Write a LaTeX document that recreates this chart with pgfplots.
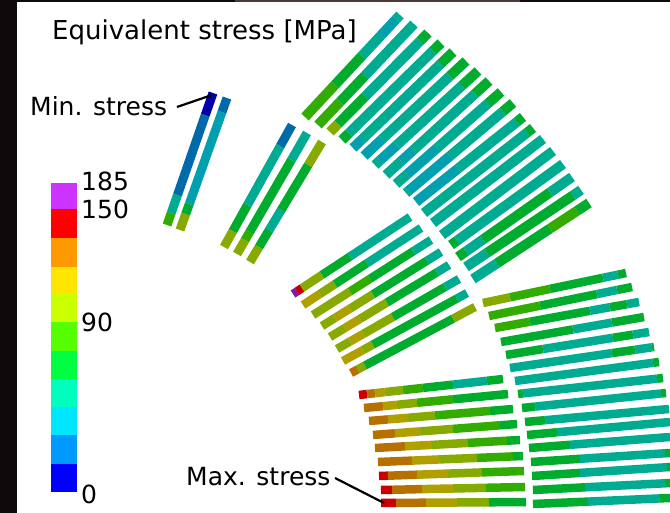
\documentclass[border=0pt]{standalone}
\usepackage{fontspec}
\setmainfont{DejaVu Sans}
\usepackage{pgfplots}
\pgfplotsset{compat=1.18}
% dimmed contour colours of the strands
\definecolor{tl}{RGB}{0,172,145}
\definecolor{bt}{RGB}{0,160,175}
\definecolor{gn}{RGB}{0,172,45}
\definecolor{yg}{RGB}{50,172,0}
\definecolor{ol}{RGB}{135,170,0}
\definecolor{gd}{RGB}{175,160,0}
\definecolor{og}{RGB}{182,112,0}
\definecolor{rd}{RGB}{200,0,0}
\definecolor{bl}{RGB}{0,105,170}
\definecolor{db}{RGB}{0,0,170}
\definecolor{pu}{RGB}{120,30,170}
\definecolor{bgdark}{RGB}{14,10,12}
\newcommand{\sA}[2]{\addplot[forget plot,draw=#1,line width=9pt] coordinates {#2};}
\newcommand{\sB}[2]{\addplot[forget plot,draw=#1,line width=8.5pt] coordinates {#2};}
\newcommand{\sD}[2]{\addplot[forget plot,draw=#1,line width=10pt] coordinates {#2};}
\tikzset{lb/.style={anchor=base west,inner sep=0pt,text=black,font=\fontsize{25}{29}\selectfont}}
\begin{document}
\begin{tikzpicture}
\begin{axis}[
    scale only axis, width=670pt, height=513pt,
    xmin=0, xmax=670, ymin=0, ymax=513,
    y dir=reverse, hide axis, clip=true,
]
% background
\addplot[forget plot,draw=none,fill=white] coordinates {(0,0)(670,0)(670,513)(0,513)} -- cycle;
\addplot[forget plot,draw=none,fill=bgdark] coordinates {(0,0)(17,0)(17,513)(0,513)} -- cycle;
\addplot[forget plot,draw=none,fill=bgdark] coordinates {(0,0)(670,0)(670,2)(0,2)} -- cycle;
\addplot[forget plot,draw=none,fill={rgb,255:red,74;green,58;blue,56}] coordinates {(235,0)(520,0)(520,2)(235,2)} -- cycle;

% colour bar
\addplot[forget plot,draw=none,fill={rgb,255:red,204;green,51;blue,255}] coordinates {(51,183)(77,183)(77,209)(51,209)} -- cycle;
\addplot[forget plot,draw=none,fill={rgb,255:red,255;green,0;blue,0}] coordinates {(51,209)(77,209)(77,238)(51,238)} -- cycle;
\addplot[forget plot,draw=none,fill={rgb,255:red,255;green,153;blue,0}] coordinates {(51,238)(77,238)(77,267)(51,267)} -- cycle;
\addplot[forget plot,draw=none,fill={rgb,255:red,255;green,230;blue,0}] coordinates {(51,267)(77,267)(77,294)(51,294)} -- cycle;
\addplot[forget plot,draw=none,fill={rgb,255:red,204;green,255;blue,0}] coordinates {(51,294)(77,294)(77,322)(51,322)} -- cycle;
\addplot[forget plot,draw=none,fill={rgb,255:red,85;green,255;blue,0}] coordinates {(51,322)(77,322)(77,351)(51,351)} -- cycle;
\addplot[forget plot,draw=none,fill={rgb,255:red,0;green,255;blue,64}] coordinates {(51,351)(77,351)(77,379)(51,379)} -- cycle;
\addplot[forget plot,draw=none,fill={rgb,255:red,0;green,255;blue,191}] coordinates {(51,379)(77,379)(77,407)(51,407)} -- cycle;
\addplot[forget plot,draw=none,fill={rgb,255:red,0;green,230;blue,255}] coordinates {(51,407)(77,407)(77,435)(51,435)} -- cycle;
\addplot[forget plot,draw=none,fill={rgb,255:red,0;green,153;blue,255}] coordinates {(51,435)(77,435)(77,464)(51,464)} -- cycle;
\addplot[forget plot,draw=none,fill={rgb,255:red,0;green,0;blue,255}] coordinates {(51,464)(77,464)(77,492)(51,492)} -- cycle;

% block 1, two strands
\sA{yg}{(167,225)(171.2,213)} \sA{tl}{(171.2,213)(177.5,195)} \sA{bl}{(177.5,195)(205.3,115)} \sA{db}{(205.3,115)(213,93)}
\sA{ol}{(180,230)(185.7,214)} \sA{gn}{(185.7,214)(189.3,204)} \sA{bt}{(189.3,204)(222,112)} \sA{bl}{(222,112)(227,98)}

% block 2, three strands
\sA{ol}{(224,247)(232.9,231)} \sA{gn}{(232.9,231)(247.4,205)} \sA{tl}{(247.4,205)(280.3,146)} \sA{bl}{(280.3,146)(292,125)}
\sA{ol}{(237,254)(245.1,240)} \sA{yg}{(245.1,240)(249.7,232)} \sA{gn}{(249.7,232)(291.4,160)} \sA{tl}{(291.4,160)(307,133)}
\sA{ol}{(250,262)(259,247)} \sA{gn}{(259,247)(269.2,230)} \sA{tl}{(269.2,230)(281.2,210)} \sA{gn}{(281.2,210)(308.2,165)} \sA{ol}{(308.2,165)(322,142)}

% block 3, eighteen strands
\sD{yg}{(305,117)(335,84.8)} \sD{gn}{(335,84.8)(362,55.8)} \sD{tl}{(362,55.8)(381,35.4)} \sD{bt}{(381,35.4)(396,19.3)} \sD{tl}{(396,19.3)(400,15)}
\sD{yg}{(318,125)(340,101.9)} \sD{gn}{(340,101.9)(365,75.6)} \sD{tl}{(365,75.6)(414,24)}
\sD{ol}{(330,132)(338,123.9)} \sD{gn}{(338,123.9)(365,96.6)} \sD{tl}{(365,96.6)(420,41.1)} \sD{gn}{(420,41.1)(428,33)}
\sD{gn}{(342,140)(349,133.1)} \sD{tl}{(349,133.1)(433,50.8)} \sD{gn}{(433,50.8)(441,43)}
\sD{bt}{(353,148)(362,139.4)} \sD{tl}{(362,139.4)(441,63.5)} \sD{gn}{(441,63.5)(453,52)}
\sD{bt}{(364,156)(382,139.2)} \sD{tl}{(382,139.2)(450,75.9)} \sD{gn}{(450,75.9)(466,61)}
\sD{tl}{(375,165)(380,160.4)} \sD{bt}{(380,160.4)(397,144.9)} \sD{tl}{(397,144.9)(462,85.6)} \sD{gn}{(462,85.6)(478,71)}
\sD{tl}{(386,175)(401,161.3)} \sD{bt}{(401,161.3)(413,150.4)} \sD{tl}{(413,150.4)(475,93.8)} \sD{gn}{(475,93.8)(489,81)}
\sD{tl}{(396,184)(407,174.4)} \sD{bt}{(407,174.4)(437,148.1)} \sD{tl}{(437,148.1)(488,103.4)} \sD{gn}{(488,103.4)(501,92)}
\sD{tl}{(406,193)(408,191.3)} \sD{bt}{(408,191.3)(450,156)} \sD{tl}{(450,156)(503,111.4)} \sD{gn}{(503,111.4)(513,103)}
\sD{bt}{(416,202)(458,168.6)} \sD{tl}{(458,168.6)(517,121.8)} \sD{gn}{(517,121.8)(523,117)}
\sD{tl}{(424,213)(527,132.7)} \sD{gn}{(527,132.7)(533,128)}
\sD{tl}{(433,223)(543,139)}
\sD{tl}{(442,235)(553,151)}
\sD{gn}{(451,245)(457,240.7)} \sD{tl}{(457,240.7)(563,164)}
\sD{gn}{(458,257)(466,251.4)} \sD{tl}{(466,251.4)(483,239.5)} \sD{gn}{(483,239.5)(550,192.4)} \sD{tl}{(550,192.4)(572,177)}
\sD{tl}{(466,267)(487,252.9)} \sD{gn}{(487,252.9)(573,195.4)} \sD{tl}{(573,195.4)(581,190)}
\sD{tl}{(473,279)(497,263.3)} \sD{gn}{(497,263.3)(550,228.6)} \sD{yg}{(550,228.6)(577,210.9)} \sD{gn}{(577,210.9)(589,203)}

% block 4, eight strands
\sB{pu}{(293,294)(297,291.4)} \sB{rd}{(297,291.4)(302,288.1)} \sB{ol}{(302,288.1)(322,274.9)} \sB{gn}{(322,274.9)(350,256.5)} \sB{tl}{(350,256.5)(410,217)}
\sB{gd}{(303,305)(320,293.9)} \sB{ol}{(320,293.9)(335,284.1)} \sB{gn}{(335,284.1)(367,263.2)} \sB{tl}{(367,263.2)(421,228)}
\sB{ol}{(313,315)(350,291.5)} \sB{yg}{(350,291.5)(370,278.8)} \sB{gn}{(370,278.8)(413,251.4)} \sB{tl}{(413,251.4)(431,240)}
\sB{ol}{(322,326)(335,317.9)} \sB{gd}{(335,317.9)(350,308.6)} \sB{ol}{(350,308.6)(373,294.3)} \sB{gn}{(373,294.3)(427,260.7)} \sB{tl}{(427,260.7)(441,252)}
\sB{ol}{(330,337)(345,327.9)} \sB{gd}{(345,327.9)(360,318.9)} \sB{ol}{(360,318.9)(387,302.5)} \sB{gn}{(387,302.5)(437,272.3)} \sB{tl}{(437,272.3)(449,265)}
\sB{ol}{(337,349)(350,341.5)} \sB{gd}{(350,341.5)(363,334.1)} \sB{ol}{(363,334.1)(393,316.9)} \sB{gn}{(393,316.9)(445,287)} \sB{tl}{(445,287)(459,279)}
\sB{gd}{(343,361)(363,350)} \sB{ol}{(363,350)(373,344.5)} \sB{gn}{(373,344.5)(457,298.5)} \sB{tl}{(457,298.5)(467,293)}
\sB{og}{(351,373)(358,369.3)} \sB{ol}{(358,369.3)(365,365.5)} \sB{gn}{(365,365.5)(453,318.7)} \sB{ol}{(453,318.7)(475,307)}

% block 5, nine strands
\sB{rd}{(359,395)(367,394.1)} \sB{og}{(367,394.1)(375,393.2)} \sB{gd}{(375,393.2)(385,392.1)} \sB{ol}{(385,392.1)(403,390.1)} \sB{yg}{(403,390.1)(423,387.9)} \sB{gn}{(423,387.9)(453,384.6)} \sB{tl}{(453,384.6)(487,380.8)} \sB{gn}{(487,380.8)(503,379)}
\sB{og}{(364,408)(383,406.2)} \sB{gd}{(383,406.2)(397,404.8)} \sB{ol}{(397,404.8)(417,402.8)} \sB{yg}{(417,402.8)(453,399.3)} \sB{gn}{(453,399.3)(508,394)}
\sB{og}{(369,421)(388,419.4)} \sB{gd}{(388,419.4)(408,417.8)} \sB{ol}{(408,417.8)(435,415.5)} \sB{yg}{(435,415.5)(490,410.9)} \sB{gn}{(490,410.9)(513,409)}
\sB{og}{(373,435)(395,433.3)} \sB{gd}{(395,433.3)(420,431.4)} \sB{ol}{(420,431.4)(453,428.9)} \sB{yg}{(453,428.9)(500,425.3)} \sB{gn}{(500,425.3)(517,424)}
\sB{og}{(375,448)(405,446.3)} \sB{gd}{(405,446.3)(432,444.9)} \sB{ol}{(432,444.9)(468,442.9)} \sB{yg}{(468,442.9)(507,440.7)} \sB{gn}{(507,440.7)(520,440)}
\sB{og}{(378,462)(412,460.6)} \sB{gd}{(412,460.6)(440,459.4)} \sB{ol}{(440,459.4)(477,457.9)} \sB{yg}{(477,457.9)(513,456.4)} \sB{gn}{(513,456.4)(523,456)}
\sB{rd}{(379,476)(388,475.7)} \sB{og}{(388,475.7)(417,474.7)} \sB{gd}{(417,474.7)(448,473.6)} \sB{ol}{(448,473.6)(482,472.4)} \sB{yg}{(482,472.4)(524,471)}
\sB{rd}{(381,490)(392,489.8)} \sB{og}{(392,489.8)(422,489.1)} \sB{gd}{(422,489.1)(453,488.5)} \sB{ol}{(453,488.5)(486,487.8)} \sB{yg}{(486,487.8)(525,487)}
\sB{rd}{(381,503)(396,502.9)} \sB{og}{(396,502.9)(426,502.7)} \sB{gd}{(426,502.7)(457,502.5)} \sB{ol}{(457,502.5)(489,502.3)} \sB{gn}{(489,502.3)(526,502)}

% block 6, sixteen strands
\sB{ol}{(483,303)(510,297.3)} \sB{yg}{(510,297.3)(550,288.9)} \sB{gn}{(550,288.9)(603,277.8)} \sB{tl}{(603,277.8)(618,274.7)} \sB{gn}{(618,274.7)(626,273)}
\sB{yg}{(489,316)(540,305.7)} \sB{gn}{(540,305.7)(597,294.1)} \sB{tl}{(597,294.1)(617,290)} \sB{gn}{(617,290)(632,287)}
\sB{yg}{(495,328)(530,321.7)} \sB{gn}{(530,321.7)(590,310.8)} \sB{tl}{(590,310.8)(610,307.2)} \sB{gn}{(610,307.2)(627,304.2)} \sB{tl}{(627,304.2)(639,302)}
\sB{gn}{(501,342)(573,329.4)} \sB{tl}{(573,329.4)(612,322.6)} \sB{gn}{(612,322.6)(644,317)}
\sB{gn}{(506,355)(543,349)} \sB{tl}{(543,349)(613,337.8)} \sB{gn}{(613,337.8)(633,334.6)} \sB{tl}{(633,334.6)(649,332)}
\sB{tl}{(510,368)(612,353.1)} \sB{gn}{(612,353.1)(635,349.8)} \sB{tl}{(635,349.8)(652,347.3)} \sB{gn}{(652,347.3)(654,347)}
\sB{tl}{(515,381)(653,362.8)} \sB{gn}{(653,362.8)(659,362)}
\sB{gn}{(518,394)(523,393.4)} \sB{tl}{(523,393.4)(657,378.7)} \sB{gn}{(657,378.7)(663,378)}
\sB{gn}{(522,408)(535,406.6)} \sB{tl}{(535,406.6)(661,393.5)} \sB{gn}{(661,393.5)(666,393)}
\sB{gn}{(525,422)(545,420.2)} \sB{tl}{(545,420.2)(669,409)}
\sB{gn}{(527,435)(557,432.3)} \sB{tl}{(557,432.3)(670,422)}
\sB{gn}{(529,448)(570,444.8)} \sB{tl}{(570,444.8)(670,437)}
\sB{gn}{(531,462)(580,458.8)} \sB{tl}{(580,458.8)(665,453.3)} \sB{gn}{(665,453.3)(670,453)}
\sB{gn}{(532,476)(580,472.9)} \sB{tl}{(580,472.9)(667,467.2)} \sB{gn}{(667,467.2)(670,467)}
\sB{gn}{(533,490)(585,487.3)} \sB{tl}{(585,487.3)(665,483.3)} \sB{gn}{(665,483.3)(670,483)}
\sB{gn}{(533,504)(588,501.6)} \sB{tl}{(588,501.6)(660,498.4)} \sB{gn}{(660,498.4)(670,498)}

% leaders
\addplot[forget plot,draw=black,line width=2.2pt] coordinates {(177,107)(212,95)};
\addplot[forget plot,draw=black,line width=2.2pt] coordinates {(335,478)(384,503)};

% labels
\node[lb,font=\fontsize{26}{30}\selectfont] at (axis cs:52,40) {Equivalent stress [MPa]};
\node[lb] at (axis cs:30,116) {Min. stress};
\node[lb] at (axis cs:186,485) {Max. stress};
\node[lb] at (axis cs:81,191) {185};
\node[lb] at (axis cs:81,219) {150};
\node[lb] at (axis cs:81,331) {90};
\node[lb] at (axis cs:81,503) {0};
\end{axis}
\end{tikzpicture}
\end{document}
